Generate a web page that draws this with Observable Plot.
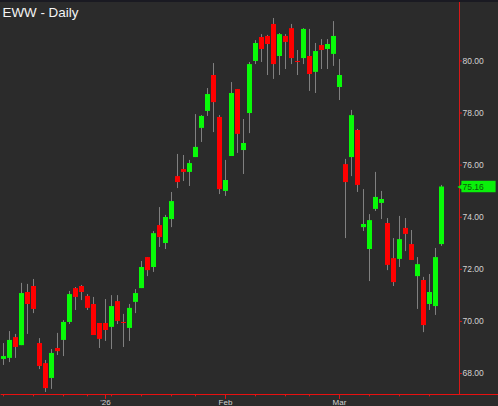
<!DOCTYPE html>
<html>
<head>
<meta charset="utf-8">
<script src="https://cdn.jsdelivr.net/npm/d3@7"></script>
<script src="https://cdn.jsdelivr.net/npm/@observablehq/plot@0.6"></script>
<style>
html,body{margin:0;padding:0;background:#2b2b2b;overflow:hidden}
#topbar{position:absolute;left:0;top:0;width:498px;height:2px;background:#1a1a22}
#chart{position:absolute;left:0;top:0}
</style>
</head>
<body>
<div id="chart"></div>
<div id="topbar"></div>
<script>
const title = "EWW - Daily";
const opens = [68.54,68.58,69.38,69.07,71.11,71.34,69.15,68.38,67.81,68.96,69.27,69.96,71.26,71.34,70.96,70.65,69.92,69.92,69.77,70.76,69.96,69.73,70.73,71.26,72.45,72.07,73.68,72.99,73.91,75.56,75.83,75.72,76.29,77.41,78.06,79.44,77.83,74.99,76.33,78.90,76.56,77.98,79.98,80.90,80.94,81.40,80.17,80.94,81.24,79.98,80.09,80.17,79.56,80.59,80.44,80.25,78.98,76.02,76.29,77.33,73.60,72.76,74.30,74.53,73.76,72.41,72.38,73.57,72.95,71.72,71.57,70.65,70.57,72.95];
const closes = [68.65,69.27,69.00,71.07,70.65,70.46,68.27,67.42,68.77,68.84,69.96,71.03,70.92,71.11,70.50,69.46,69.31,69.65,70.57,70.00,69.92,70.50,71.07,72.07,71.95,73.37,73.22,73.99,74.60,75.33,75.72,76.06,76.68,77.87,78.71,78.40,75.06,75.41,78.75,77.18,76.83,79.86,80.67,80.44,80.63,79.86,81.01,80.71,80.09,79.94,81.21,79.48,80.36,80.40,80.63,80.94,79.44,75.33,77.90,75.22,73.72,73.87,74.76,74.68,72.15,71.49,73.14,73.34,72.34,72.18,69.84,71.11,72.45,75.16];
const highs = [69.15,69.61,69.50,71.46,71.42,71.61,69.34,68.50,68.92,69.54,70.03,71.15,71.30,71.38,71.03,70.92,69.92,70.84,70.99,70.99,70.27,70.65,71.22,72.30,72.45,73.45,74.37,74.07,74.95,76.41,76.37,76.18,77.94,77.90,78.94,79.90,77.90,76.18,79.17,78.90,77.75,79.94,80.78,81.01,80.98,81.63,81.05,81.01,81.40,80.40,81.24,81.21,80.67,80.82,80.82,81.51,80.05,76.22,78.10,77.37,75.06,74.10,75.72,74.99,73.95,73.18,74.03,73.95,73.49,72.45,71.69,71.80,72.80,75.22];
const lows = [68.31,68.42,68.58,69.07,69.50,70.30,68.15,67.27,67.39,68.69,68.65,69.88,70.42,70.80,70.42,69.46,68.96,69.23,68.92,69.88,69.00,69.23,70.30,71.26,71.72,71.88,72.84,72.76,73.60,75.10,75.37,75.18,76.29,76.87,77.87,77.25,74.87,74.80,76.33,76.45,75.64,77.21,79.86,79.94,79.44,79.29,79.44,79.67,79.86,79.44,79.86,78.83,78.75,79.67,79.67,79.79,78.48,73.18,75.56,74.95,73.45,71.53,74.22,73.91,71.95,71.34,72.07,72.68,72.34,70.46,69.57,70.42,70.23,72.88];
const yTicks = [68,70,72,74,76,78,80];
const monthAt = [17,37,56];
const monthLabels = ["'26","Feb","Mar"];
const weekAt = [0,5,10,14,18,23,28,32,42,47,51,61,66,71];
const last = closes[closes.length-1];
const days = opens.map((o,i)=>({i,o,c:closes[i],h:highs[i],l:lows[i],up:closes[i]>o}));

const base = 67.194;
const GREEN="#08fa08", RED="#ff0000", WICK="#808080", AXIS="#d81818", TEXT="#d2d2d2", TAG="#0af00a";
const chart = Plot.plot({
  width:498, height:406,
  marginLeft:3, marginRight:39, marginTop:0, marginBottom:12,
  style:{background:"#2b2b2b",fontFamily:"'Liberation Sans',Arial,sans-serif",color:TEXT},
  x:{domain:[0,76],axis:null,label:null},
  y:{domain:[base,82.32],axis:null,label:null},
  marks:[
    Plot.ruleX(days,{x:"i",y1:"l",y2:"h",stroke:WICK,strokeWidth:1}),
    Plot.ruleX(days,{x:"i",y1:"o",y2:"c",stroke:d=>d.up?GREEN:RED,strokeWidth:5}),
    Plot.ruleX([76],{stroke:AXIS,strokeWidth:1}),
    Plot.ruleX(weekAt,{x:d=>d,y1:base,y2:base-0.09,stroke:AXIS,strokeWidth:1}),
    Plot.ruleX(monthAt,{x:d=>d,y1:base,y2:base-0.19,stroke:AXIS,strokeWidth:1}),
    Plot.ruleY([base],{x1:-0.4,x2:83,stroke:"#e81010",strokeWidth:1}),
    Plot.axisY(yTicks,{anchor:"right",label:null,tickSize:2,tickPadding:1,tickFormat:d3.format(".2f"),fontSize:8.5,stroke:AXIS,fill:TEXT}),
    Plot.text(monthLabels,{x:(d,k)=>monthAt[k],y:base,dy:7.5,fontSize:8,fill:TEXT}),
    Plot.rect([last],{x1:76.4,x2:82.1,y1:d=>d-0.22,y2:d=>d+0.22,fill:TAG}),
    Plot.dot([last],{x:76.3,y:d=>d,symbol:"triangle",r:2.5,fill:TAG,rotate:-90}),
    Plot.text([last],{x:76,y:d=>d,text:d=>d3.format(".2f")(d),textAnchor:"start",dx:3,fontSize:8.5,fill:"#0b5a0b"}),
    Plot.text([title],{frameAnchor:"top-left",dx:-1,dy:6.5,fontSize:13.4,fill:"#f4f4f4",textAnchor:"start"})
  ]
});
document.getElementById("chart").appendChild(chart);
</script>
</body>
</html>
